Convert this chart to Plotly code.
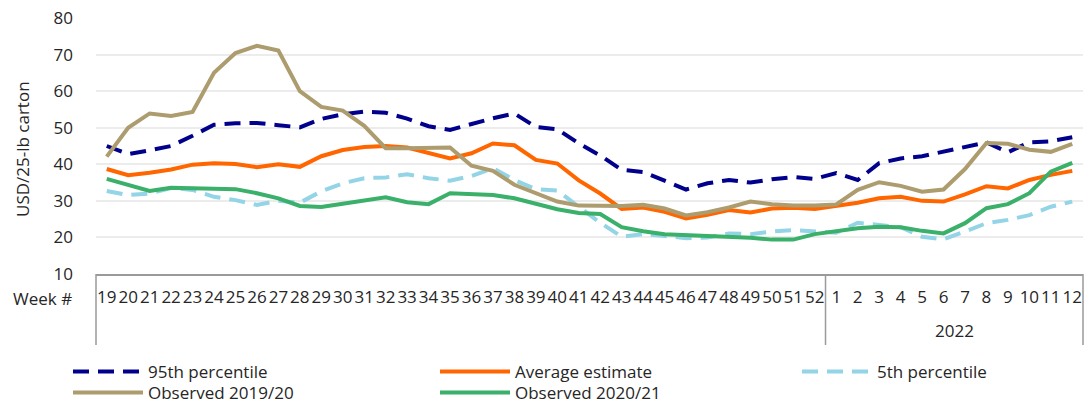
import plotly.graph_objects as go

weeks = [str(w) for w in range(19, 53)] + [str(w) for w in range(1, 13)]

p95 = [45.0, 42.8, 43.8, 45.0, 47.8, 50.8, 51.2, 51.3, 50.7, 50.1, 52.4, 53.7, 54.4, 54.1,
       52.5, 50.4, 49.4, 51.1, 52.6, 53.9, 50.2, 49.6, 45.7, 42.4, 38.5, 37.9, 35.5, 33.1,
       34.8, 35.7, 35.0, 35.9, 36.5, 36.0,
       37.6, 35.7, 40.3, 41.6, 42.2, 43.5, 44.8, 46.0, 43.3, 46.0, 46.3, 47.4]

avg = [38.7, 37.0, 37.7, 38.6, 39.9, 40.3, 40.1, 39.2, 40.0, 39.3, 42.2, 43.9, 44.7, 45.0,
       44.6, 43.0, 41.6, 43.0, 45.7, 45.2, 41.2, 40.2, 35.6, 32.0, 27.8, 28.2, 27.0, 25.2,
       26.2, 27.5, 26.8, 27.9, 28.1, 27.8,
       28.6, 29.5, 30.7, 31.1, 30.0, 29.8, 31.8, 34.0, 33.4, 35.7, 37.1, 38.2]

p5 = [32.7, 31.6, 32.0, 33.5, 33.0, 31.1, 30.2, 28.9, 30.0, 29.5, 32.6, 34.8, 36.2, 36.4,
      37.3, 36.2, 35.5, 36.8, 38.9, 35.7, 33.2, 32.8, 28.4, 24.0, 20.2, 20.9, 20.4, 19.8,
      20.0, 21.1, 20.9, 21.6, 22.0, 21.6,
      21.3, 24.0, 23.5, 22.8, 20.2, 19.5, 21.6, 23.9, 24.8, 26.1, 28.4, 29.8]

obs_1920 = [42.1, 50.0, 53.9, 53.2, 54.3, 65.0, 70.4, 72.4, 71.1, 60.0, 55.7, 54.7, 50.5, 44.4,
            44.4, 44.5, 44.6, 39.6, 38.2, 34.4, 32.0, 29.8, 28.7, 28.7, 28.6, 28.9, 27.9, 26.0,
            26.9, 28.2, 29.8, 29.1, 28.7, 28.7,
            29.0, 33.0, 35.1, 34.1, 32.5, 33.1, 38.7, 45.8, 45.6, 44.0, 43.4, 45.6]

obs_2021 = [36.0, 34.3, 32.7, 33.6, 33.4, 33.2, 33.2, 32.1, 30.7, 28.6, 28.3, 29.2, 30.2, 31.0,
            29.6, 29.1, 32.1, 31.9, 31.6, 30.7, 29.3, 27.7, 26.7, 26.4, 22.8, 21.7, 20.9, 20.7,
            20.5, 20.2, 19.9, 19.4, 19.4, 20.9,
            21.6, 22.5, 22.9, 22.8, 21.8, 21.1, 23.9, 28.0, 29.1, 32.1, 38.0, 40.4]

FONT = "Open Sans"
TXT = "#262626"
FS = 17

W, H = 1092, 406
L, R, T, B = 96, 9, 18, 132
PW, PH = W - L - R, H - T - B


def px_x(p):
    return (p - L) / PW


def px_y(p):
    return (H - B - p) / PH


series = [
    ("95th percentile", p95, "#00008C", "16px,9px", "legend", 68, 372),
    ("Average estimate", avg, "#FF6600", None, "legend2", 435, 372),
    ("5th percentile", p5, "#93D4E6", "16px,9px", "legend3", 797, 372),
    ("Observed 2019/20", obs_1920, "#AC9C6E", None, "legend4", 68, 393),
    ("Observed 2020/21", obs_2021, "#3AB06A", None, "legend5", 435, 393),
]

fig = go.Figure()
legends = {}
for name, vals, color, dash, lg, lx, ly in series:
    line = dict(color=color, width=4)
    if dash:
        line["dash"] = dash
    fig.add_trace(go.Scatter(x=weeks, y=vals, mode="lines", name=name, line=line,
                             legend=lg, hoverinfo="skip"))
    legends[lg] = dict(xref="container", yref="container", x=lx / W, y=1 - ly / H,
                       xanchor="left", yanchor="middle",
                       font=dict(family=FONT, size=FS, color=TXT), itemwidth=70,
                       bgcolor="rgba(0,0,0,0)", borderwidth=0)

fig.update_layout(
    width=W, height=H,
    margin=dict(l=L, r=R, t=T, b=B, autoexpand=False),
    paper_bgcolor="white", plot_bgcolor="white",
    font=dict(family=FONT, size=FS, color=TXT),
    showlegend=True,
    **legends,
)

fig.update_xaxes(
    type="category", range=[-0.5, len(weeks) - 0.5],
    tickmode="array", tickvals=weeks, ticktext=weeks, tickangle=0,
    showgrid=False, showline=True, linecolor="#9a9a9a", linewidth=1.5,
    ticks="", ticklabelstandoff=7,
    tickfont=dict(family=FONT, size=FS, color=TXT),
)
fig.update_yaxes(
    range=[10, 80], dtick=10, tick0=10,
    showgrid=True, gridcolor="#ececec", gridwidth=1.5,
    zeroline=False, showline=False, ticks="", ticklabelstandoff=22,
    tickfont=dict(family=FONT, size=FS, color=TXT),
)

# category box lines below the axis
box_bottom = px_y(345)
for xv in (0, 1):
    fig.add_shape(type="line", xref="paper", yref="paper", x0=xv, x1=xv, y0=0, y1=box_bottom,
                  line=dict(color="#9a9a9a", width=1.5))
fig.add_shape(type="line", xref="x", yref="paper", x0=33.5, x1=33.5, y0=0, y1=box_bottom,
              line=dict(color="#9a9a9a", width=1.5))

fig.add_annotation(text="2022", xref="x", yref="paper", x=39.5, y=px_y(330),
                   showarrow=False, font=dict(family=FONT, size=FS, color=TXT),
                   xanchor="center", yanchor="middle")
fig.add_annotation(text="Week #", xref="paper", yref="paper", x=px_x(74), y=px_y(298),
                   showarrow=False, font=dict(family=FONT, size=FS, color=TXT),
                   xanchor="right", yanchor="middle")
fig.add_annotation(text="USD/25-lb carton", xref="paper", yref="paper", x=px_x(22), y=px_y(149),
                   showarrow=False, textangle=-90, font=dict(family=FONT, size=FS, color=TXT),
                   xanchor="center", yanchor="middle")

fig.write_html("out.html",
               config={"displayModeBar": False},
               post_script="document.body.style.margin='0';document.body.style.overflow='hidden';")
